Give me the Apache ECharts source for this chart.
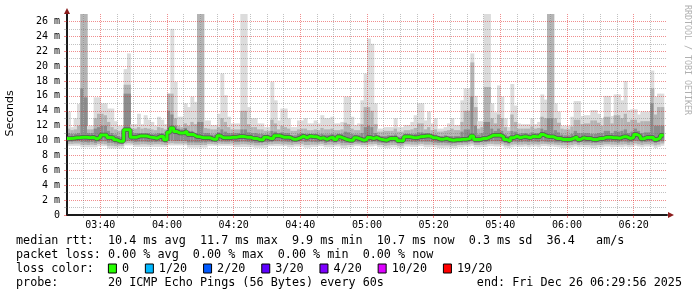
<!DOCTYPE html>
<html>
<head>
<meta charset="utf-8">
<script src="https://cdn.jsdelivr.net/npm/echarts@6.0.0/dist/echarts.min.js"></script>
<style>
html,body{margin:0;padding:0;background:#fff;}
#chart{width:697px;height:297px;}
</style>
</head>
<body>
<div id="chart"></div>
<script>
// ---- data: one value per minute starting 03:30 (ms) ----
const startTime = '03:30';
const median = [
10.28,10.30,10.37,10.40,10.45,10.45,10.37,10.45,10.20,10.46,
10.75,10.75,10.40,10.37,10.10,9.90,9.90,11.44,11.44,10.46,
10.46,10.60,10.60,10.60,10.46,10.40,10.30,10.55,10.55,10.10,
11.10,11.70,11.20,11.00,11.00,11.26,10.80,10.80,10.54,10.50,
10.37,10.37,10.37,10.19,10.19,10.63,10.37,10.37,10.37,10.46,
10.46,10.54,10.54,10.46,10.46,10.28,10.28,10.10,10.10,10.46,
10.28,10.28,10.63,10.63,10.46,10.46,10.41,10.19,10.19,10.37,
10.60,10.37,10.60,10.50,10.50,10.28,10.37,10.14,10.37,10.41,
10.14,10.50,10.32,10.14,10.05,10.05,10.37,10.23,10.05,10.14,
10.41,10.28,10.41,10.19,10.10,10.05,10.28,10.28,10.30,9.96,
9.96,10.50,10.50,10.40,10.37,10.50,10.55,10.60,10.60,10.37,
10.37,10.19,10.19,10.28,10.10,10.05,10.10,10.10,10.19,10.19,
10.28,10.60,10.14,10.14,10.28,10.28,10.50,10.72,10.72,10.72,
10.50,10.14,9.90,10.37,10.59,10.37,10.50,10.50,10.37,10.59,
10.50,10.50,10.81,10.59,10.50,10.50,10.28,10.28,10.14,10.14,
10.14,10.28,10.50,10.14,10.37,10.28,10.28,10.14,10.14,10.28,
10.28,10.46,10.46,10.37,10.37,10.32,10.50,10.50,10.28,10.41,
10.81,10.59,10.23,10.41,10.41,10.41,10.14,10.37,10.70];
// outer (lightest) smoke: max ping
const smokeHi1 = [
13.9,11.8,13.0,14.9,27,27,12.0,12.0,15.8,15.8,
15.0,15.0,14.3,14.3,12.6,12.0,12.0,19.6,21.7,12.2,
12.2,13.6,12.2,13.4,12.8,12.5,12.0,13.2,12.8,12.2,
16.3,25.0,17.9,13.2,13.2,15.0,14.5,15.9,15.2,27,
27,12.7,12.7,12.1,12.1,13.6,19.0,16.1,13.2,12.3,
12.3,12.3,27,27,14.5,13.0,13.0,12.3,12.3,11.8,
11.8,17.9,15.4,12.7,14.3,14.3,13.0,11.8,11.8,12.7,
12.7,13.0,12.3,12.3,12.7,12.3,13.4,13.0,13.0,13.2,
12.3,12.3,12.5,15.9,15.9,13.2,12.1,12.3,15.4,19.0,
23.7,23.0,15.0,11.6,11.6,11.8,11.8,11.8,13.0,11.8,
11.8,12.1,12.1,12.5,13.4,15.0,15.0,12.7,13.9,12.3,
13.0,11.6,11.6,11.8,12.3,13.0,12.1,12.1,15.4,17.0,
17.0,21.7,16.0,12.6,12.6,27,27,15.0,13.8,17.4,
15.9,13.0,11.8,17.6,14.7,12.3,12.2,12.2,12.2,13.0,
12.2,12.5,16.2,15.5,27,27,15.0,13.9,12.0,12.0,
12.0,13.2,15.3,15.3,13.3,13.4,13.4,14.1,14.1,13.6,
13.0,16.0,16.0,13.3,16.2,16.2,15.4,18.0,14.1,14.2,
14.2,13.5,13.9,13.9,13.9,19.4,15.9,16.3,16.3];
const smokeLo1 = [
9.3,9.3,9.3,9.3,9.1,9.1,9.1,9.1,9.1,9.25,
9.25,9.25,8.95,8.95,8.95,8.95,8.95,9.35,9.35,9.35,
9.15,9.15,9.15,9.15,9.15,9.15,9.15,9.15,9.15,9.15,
9.35,9.35,9.35,9.35,9.35,9.35,9.07,9.07,9.07,9.07,
9.07,9.07,9.3,9.3,9.3,9.3,9.3,9.3,9.3,9.3,
9.12,9.12,9.12,9.12,9.12,9.12,9.03,9.03,9.03,9.03,
9.25,9.25,9.25,9.25,9.25,9.25,9.1,9.1,9.2,9.2,
9.2,9.05,9.05,9.15,9.15,9.25,9.25,9.1,9.1,9.1,
9.2,9.2,9.0,9.0,9.1,9.1,9.25,9.25,9.1,9.1,
9.2,9.2,9.3,9.1,9.1,9.0,9.0,9.1,9.1,9.0,
9.0,9.2,9.2,9.15,9.15,9.25,9.25,9.1,9.1,9.15,
9.1,9.0,9.0,9.05,9.05,9.0,9.0,9.1,9.1,9.2,
9.2,9.3,9.1,9.1,9.15,9.15,9.25,9.25,9.2,9.2,
9.25,9.05,9.0,9.1,9.2,9.15,9.15,9.2,9.1,9.2,
9.2,9.1,9.25,9.25,9.2,9.2,9.15,9.1,9.0,9.0,
9.0,9.1,9.2,9.1,9.15,9.1,9.1,9.0,9.0,9.1,
9.1,9.2,9.2,9.1,9.15,9.15,9.1,9.2,9.1,9.15,
9.3,9.2,9.1,9.2,9.2,9.2,9.0,9.15,9.3];
// middle smoke band
const smokeHi2 = [
11.6,11.4,11.5,12.0,27,27,11.5,11.5,13.0,13.6,
13.6,13.4,12.5,11.8,11.5,11.3,11.3,17.5,17.5,11.6,
11.6,11.8,11.6,11.7,11.6,11.5,11.4,11.8,11.7,11.5,
16.3,16.3,13.0,12.0,11.8,12.3,12.0,12.5,12.2,27,
27,11.7,11.6,11.5,11.5,11.8,13.0,12.5,11.8,11.5,
11.5,11.5,14.0,14.0,12.2,11.8,11.8,11.5,11.5,11.3,
11.3,12.8,12.3,11.5,12.0,11.8,11.6,11.3,11.3,11.5,
11.6,11.6,11.4,11.4,11.5,11.4,11.7,11.5,11.5,11.6,
11.4,11.4,11.5,12.4,12.2,11.6,11.4,11.4,12.2,14.5,
14.5,14.0,12.2,11.2,11.2,11.3,11.3,11.3,11.6,11.2,
11.2,11.4,11.4,11.5,11.7,12.3,12.3,11.5,11.8,11.4,
11.5,11.2,11.2,11.3,11.4,11.6,11.4,11.4,12.5,14.0,
14.0,20.5,14.5,11.6,11.8,17.2,17.2,13.0,12.3,13.5,
13.0,11.8,11.3,13.5,12.5,11.6,11.6,11.6,11.6,11.9,
11.6,11.7,13.2,13.0,27,27,13.0,12.4,11.6,11.5,
11.5,11.9,12.8,12.8,12.2,12.3,12.3,12.7,12.7,12.4,
12.0,13.2,13.2,12.3,13.4,13.4,13.0,13.6,12.5,12.8,
12.8,12.4,12.6,12.6,12.6,17.0,13.5,14.5,14.5];
const smokeLo2 = [
9.55,9.55,9.6,9.6,9.45,9.45,9.4,9.45,9.4,9.55,
9.55,9.5,9.3,9.3,9.25,9.3,9.3,9.6,9.65,9.6,
9.45,9.45,9.5,9.5,9.45,9.45,9.5,9.5,9.45,9.4,
9.6,9.65,9.6,9.6,9.6,9.6,9.4,9.4,9.4,9.4,
9.4,9.4,9.55,9.55,9.5,9.6,9.55,9.55,9.55,9.6,
9.45,9.45,9.5,9.5,9.45,9.45,9.35,9.35,9.35,9.4,
9.5,9.5,9.55,9.55,9.5,9.5,9.45,9.4,9.5,9.5,
9.55,9.4,9.4,9.45,9.45,9.5,9.55,9.4,9.45,9.45,
9.45,9.5,9.35,9.35,9.4,9.4,9.5,9.5,9.4,9.4,
9.5,9.5,9.55,9.4,9.4,9.3,9.35,9.4,9.4,9.3,
9.3,9.5,9.5,9.45,9.45,9.5,9.55,9.45,9.45,9.45,
9.4,9.35,9.35,9.35,9.35,9.3,9.3,9.4,9.4,9.45,
9.5,9.6,9.4,9.4,9.45,9.45,9.55,9.55,9.5,9.5,
9.55,9.35,9.3,9.45,9.5,9.45,9.45,9.5,9.4,9.5,
9.5,9.45,9.55,9.55,9.5,9.5,9.45,9.4,9.35,9.35,
9.35,9.4,9.5,9.4,9.45,9.4,9.4,9.35,9.35,9.4,
9.4,9.5,9.5,9.45,9.45,9.45,9.45,9.5,9.4,9.45,
9.6,9.5,9.4,9.5,9.5,9.5,9.35,9.45,9.6];
// inner (darker) smoke band
const smokeHi3 = [
11.0,10.9,10.9,11.0,17.0,15.8,11.0,11.0,11.6,11.8,
12.0,12.0,11.3,11.0,10.8,10.6,10.5,16.3,16.3,11.0,
11.0,11.0,11.0,11.0,11.0,10.9,10.9,11.0,11.0,10.8,
14.0,13.5,12.0,11.6,11.5,11.7,11.3,11.3,11.0,12.5,
12.5,11.0,11.0,10.8,10.8,11.1,11.5,11.2,11.0,11.0,
11.0,11.0,11.5,11.5,11.1,11.0,11.0,10.9,10.9,10.8,
10.8,11.3,11.2,10.9,11.1,11.0,11.0,10.7,10.7,10.9,
11.0,10.9,10.9,10.9,10.9,10.8,10.9,10.8,10.8,10.9,
10.8,10.9,10.9,11.2,11.1,10.9,10.8,10.8,11.0,11.8,
12.0,11.8,11.0,10.7,10.6,10.6,10.7,10.7,10.8,10.5,
10.5,10.9,10.9,10.9,10.9,11.1,11.1,11.0,11.0,10.8,
10.8,10.6,10.6,10.7,10.6,10.6,10.6,10.6,11.2,11.5,
11.5,15.9,12.0,10.8,11.0,12.5,12.5,11.6,11.3,11.6,
11.3,10.8,10.6,11.3,11.2,10.9,11.0,11.0,10.9,11.1,
11.0,11.0,11.6,11.4,13.0,13.0,11.4,11.1,10.8,10.7,
10.7,10.9,11.3,11.0,11.0,11.0,11.0,10.9,10.9,11.0,
11.0,11.3,11.3,11.0,11.3,11.2,11.3,11.5,11.0,11.2,
11.6,11.3,11.0,11.1,11.1,15.0,12.0,12.0,12.0];
const smokeLo3 = [
9.85,9.85,9.9,9.9,9.8,9.8,9.75,9.8,9.7,9.85,
9.9,9.9,9.7,9.7,9.6,9.55,9.55,9.9,9.95,9.9,
9.8,9.85,9.85,9.85,9.8,9.8,9.8,9.85,9.8,9.7,
9.95,10.0,9.95,9.95,9.95,9.95,9.75,9.75,9.75,9.75,
9.75,9.75,9.85,9.8,9.8,9.9,9.85,9.85,9.85,9.9,
9.8,9.8,9.85,9.85,9.8,9.75,9.7,9.7,9.7,9.8,
9.8,9.8,9.9,9.9,9.85,9.85,9.8,9.75,9.8,9.85,
9.9,9.8,9.85,9.8,9.8,9.8,9.85,9.7,9.8,9.8,
9.75,9.85,9.7,9.7,9.7,9.7,9.8,9.75,9.7,9.7,
9.8,9.8,9.85,9.75,9.7,9.65,9.7,9.75,9.75,9.6,
9.6,9.85,9.85,9.8,9.8,9.85,9.85,9.85,9.85,9.8,
9.75,9.7,9.7,9.7,9.65,9.6,9.65,9.7,9.7,9.75,
9.8,9.9,9.7,9.7,9.8,9.8,9.85,9.9,9.9,9.9,
9.85,9.7,9.6,9.8,9.85,9.8,9.8,9.85,9.8,9.85,
9.85,9.8,9.9,9.85,9.8,9.8,9.75,9.75,9.7,9.7,
9.7,9.75,9.85,9.7,9.8,9.75,9.75,9.7,9.7,9.75,
9.75,9.8,9.8,9.8,9.8,9.75,9.85,9.85,9.75,9.8,
9.95,9.9,9.75,9.8,9.85,9.85,9.7,9.8,9.9];

// ---- axis ticks ----
const xTickLabels = ['03:40','04:00','04:20','04:40','05:00','05:20','05:40','06:00','06:20'];
const xMinorStep = 5;     // minutes between minor grid lines
const yTickValues = [0,2,4,6,8,10,12,14,16,18,20,22,24,26];
const yTickLabels = ['0','2 m','4 m','6 m','8 m','10 m','12 m','14 m','16 m','18 m','20 m','22 m','24 m','26 m'];
const yMinorValues = [1,3,5,7,9,11,13,15,17,19,21,23,25];

// ---- legend texts ----
const statLines = [
  'median rtt:  10.4 ms avg  11.7 ms max  9.9 ms min  10.7 ms now  0.3 ms sd  36.4   am/s',
  'packet loss: 0.00 % avg  0.00 % max  0.00 % min  0.00 % now'
];
const lossTitle = 'loss color:';
const lossLabels = ['0','1/20','2/20','3/20','4/20','10/20','19/20'];
const lossColors = ['#26ff00','#00b8ff','#0059ff','#5e00ff','#7e00ff','#dd00ff','#ff0000'];
const probeText = 'probe:       20 ICMP Echo Pings (56 Bytes) every 60s';
const endText = 'end: Fri Dec 26 06:29:56 2025';
const yAxisName = 'Seconds';
const sideText = 'RRDTOOL / TOBI OETIKER';

// ---- build ----
const toMin = s => { const p = s.split(':'); return (+p[0])*60 + (+p[1]); };
const t0 = toMin(startTime);
const xTickValues = xTickLabels.map(l => toMin(l) - t0);
const xMinorValues = [];
for (let v = xMinorStep; v < 180; v += xMinorStep) if (xTickValues.indexOf(v) < 0) xMinorValues.push(v);
const N = median.length;
const smokeRows = median.map((m, j) => [j, smokeLo1[j], smokeHi1[j], smokeLo2[j], smokeHi2[j], smokeLo3[j], smokeHi3[j]]);
const medPts = median.map((v, j) => [j, v]);
medPts.push([N, median[N - 1]]);

const MONO = 'DejaVu Sans Mono';
const minorCol = 'rgba(110,110,110,0.42)';
const majorCol = 'rgba(225,30,30,0.5)';
const smokeColors = ['#dcdcdc', '#b4b4b4', '#8c8c8c'];

const G = {left: 67, right: 30, top: 14, bottom: 82};
const W = 697, H = 297;
const plotBottom = H - G.bottom, plotRight = W - G.right;

const graphics = [];
// axis arrows
graphics.push({type:'polygon', shape:{points:[[64,G.top],[70,G.top],[67,G.top-6]]}, style:{fill:'#8b1c1c'}, z:10});
graphics.push({type:'polygon', shape:{points:[[plotRight+1,plotBottom-3],[plotRight+1,plotBottom+3],[plotRight+7,plotBottom]]}, style:{fill:'#8b1c1c'}, z:10});
// axis name
graphics.push({type:'text', x:10.5, y:113.5, rotation:Math.PI/2,
  style:{text:yAxisName, font:'11px "DejaVu Sans"', fill:'#000', align:'center', verticalAlign:'middle', textAlign:'center', textVerticalAlign:'middle'}});
// side credit
graphics.push({type:'text', x:687, y:60, rotation:-Math.PI/2,
  style:{text:sideText, font:'8.3px "DejaVu Sans Mono"', fill:'#b0b0b0', align:'center', verticalAlign:'middle', textAlign:'center', textVerticalAlign:'middle'}});
// legend rows
const FS = 11.75, CW = FS * 0.602;
const rowY = [241, 255, 268.5, 283];
const txt = (s, x, y, align) => ({type:'text', x:x, y:y,
  style:{text:s, font: FS + 'px "DejaVu Sans Mono"', fill:'#000', align:align||'left', verticalAlign:'middle', textAlign:align||'left', textVerticalAlign:'middle'}});
graphics.push(txt(statLines[0], 16, rowY[0]));
graphics.push(txt(statLines[1], 16, rowY[1]));
graphics.push(txt(lossTitle, 16, rowY[2]));
let bx = 108.4;
lossLabels.forEach((lab, i) => {
  graphics.push({type:'rect', shape:{x:bx, y:rowY[2]-4.5, width:8, height:9}, style:{fill:lossColors[i], stroke:'#000', lineWidth:1}});
  const tx = bx + 13.5;
  graphics.push(txt(lab, tx, rowY[2]));
  bx = tx + lab.length * CW + 16.4;
});
graphics.push(txt(probeText, 16, rowY[3]));
graphics.push(txt(endText, 682, rowY[3], 'right'));

const axisLabelStyle = {fontFamily: MONO, fontSize: 10, color: '#000'};
const dotted = {width:1, type:[1,1], dashOffset:0};

const option = {
  animation: false,
  backgroundColor: '#ffffff',
  grid: {left: G.left, right: G.right, top: G.top, bottom: G.bottom},
  xAxis: [
    {type:'value', position:'bottom', min:0, max:180, z:3,
     axisLine:{show:true, onZero:false, lineStyle:{color:'#1a1a1a', width:2}},
     axisTick:{show:true, length:3, customValues:xMinorValues, lineStyle:{color:minorCol}},
     axisLabel:{show:false},
     splitLine:{show:true, lineStyle:Object.assign({color:minorCol}, dotted)}},
    {type:'value', position:'bottom', min:0, max:180, z:3,
     axisLine:{show:false, onZero:false},
     axisTick:{show:true, length:3, customValues:xTickValues, lineStyle:{color:majorCol}},
     axisLabel:Object.assign({show:true, margin:5, customValues:xTickValues,
        formatter: v => { const k = xTickValues.indexOf(Math.round(v)); return k >= 0 ? xTickLabels[k] : ''; }}, axisLabelStyle),
     splitLine:{show:true, lineStyle:Object.assign({color:majorCol}, dotted)}}
  ],
  yAxis: [
    {type:'value', position:'left', min:0, max:27, z:3,
     axisLine:{show:true, onZero:false, lineStyle:{color:'#1a1a1a', width:2}},
     axisTick:{show:true, length:3, customValues:yMinorValues, lineStyle:{color:minorCol}},
     axisLabel:{show:false},
     splitLine:{show:true, lineStyle:Object.assign({color:minorCol}, dotted)}},
    {type:'value', position:'left', min:0, max:27, z:3,
     axisLine:{show:false, onZero:false},
     axisTick:{show:true, length:3, customValues:yTickValues, lineStyle:{color:majorCol}},
     axisLabel:Object.assign({show:true, margin:7, customValues:yTickValues,
        formatter: v => { const k = yTickValues.indexOf(Math.round(v)); return k >= 0 ? yTickLabels[k] : ''; }}, axisLabelStyle),
     splitLine:{show:true, lineStyle:Object.assign({color:majorCol}, dotted)}}
  ],
  series: [
    {type:'custom', xAxisIndex:0, yAxisIndex:0, z:2, silent:true, clip:true,
     encode:{x:0, y:[1,2]},
     data: smokeRows,
     renderItem: (params, api) => {
       const j = api.value(0);
       const xa = api.coord([j, 0])[0], xb = api.coord([j + 1, 0])[0];
       const children = [];
       for (let k = 0; k < 3; k++) {
         const lo = api.value(1 + 2 * k), hi = api.value(2 + 2 * k);
         const pt = api.coord([j, hi]), pb = api.coord([j, lo]);
         children.push({type:'rect', shape:{x:xa, y:pt[1], width:(xb - xa) + 0.6, height:pb[1] - pt[1]},
           style:{fill:smokeColors[k]}});
       }
       return {type:'group', children: children};
     }},
    {type:'line', xAxisIndex:0, yAxisIndex:0, z:4, silent:true, step:'end', symbol:'none',
     data: medPts, lineStyle:{color:'#555555', width:4.5}},
    {type:'line', xAxisIndex:0, yAxisIndex:0, z:5, silent:true, step:'end', symbol:'none',
     data: medPts, lineStyle:{color:'#26ff00', width:3}}
  ],
  graphic: graphics
};

const chart = echarts.init(document.getElementById('chart'), null, {renderer:'canvas', width:W, height:H});
chart.setOption(option);
</script>
</body>
</html>
